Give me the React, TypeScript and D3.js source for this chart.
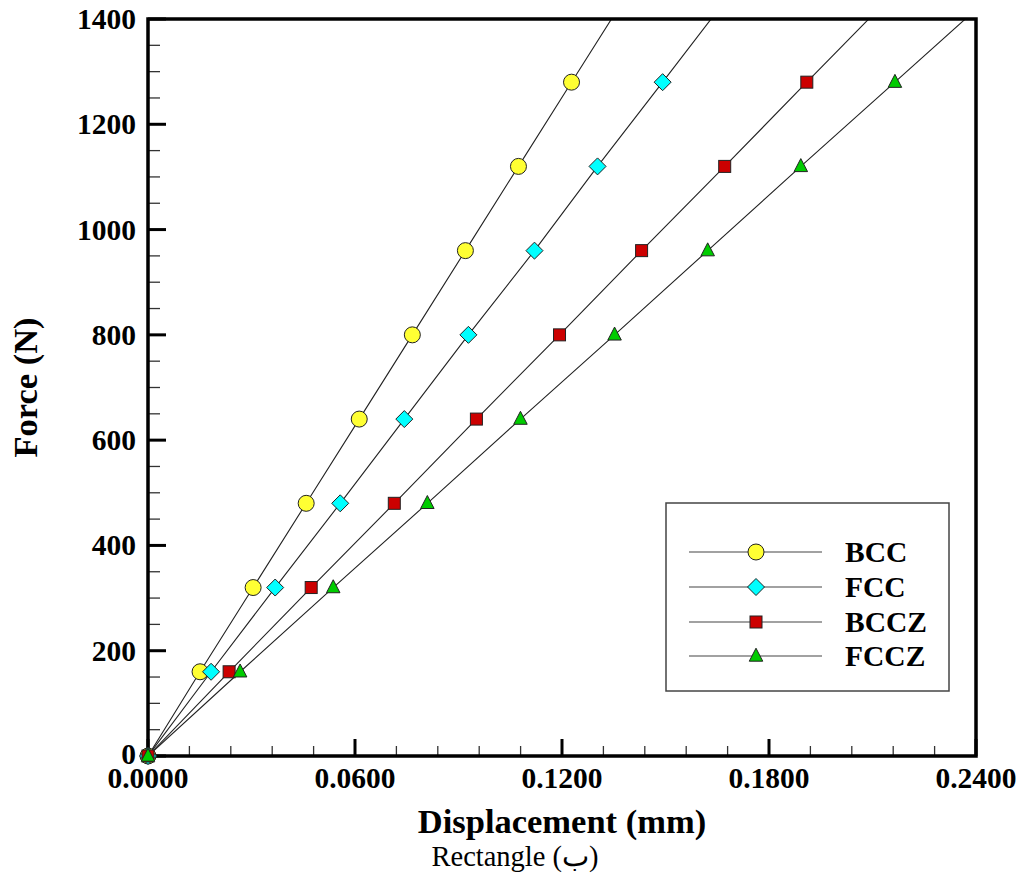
import React from "react";
import * as d3 from "d3";

const forces = [0, 160, 320, 480, 640, 800, 960, 1120, 1280, 1440];
const bccDisp = [0, 0.01509, 0.03047, 0.04585, 0.06123, 0.07662, 0.092, 0.10738, 0.12276, 0.1382];
const fccDisp = [0, 0.01828, 0.03686, 0.05572, 0.07429, 0.09287, 0.11202, 0.1303, 0.14917, 0.1679];
const bcczDisp = [0, 0.02351, 0.0473, 0.07139, 0.09519, 0.11928, 0.14307, 0.16716, 0.19096, 0.2149];
const fcczDisp = [0, 0.0267, 0.05369, 0.08097, 0.10796, 0.13524, 0.16223, 0.18922, 0.2165, 0.2437];
const seriesNames = ["BCC", "FCC", "BCCZ", "FCCZ"];
const seriesColors = ["#ffff33", "#00ffff", "#cc0000", "#00cc00"];
const seriesShapes = ["circle", "diamond", "square", "triangle"];
const xTickLabels = ["0.0000", "0.0600", "0.1200", "0.1800", "0.2400"];
const yTickValues = [0, 200, 400, 600, 800, 1000, 1200, 1400];

const W = 1026;
const H = 882;
const L = 148, R = 976, T = 19, B = 756;
const FONT = "'Liberation Serif', 'Times New Roman', serif";

function Marker({ shape, x, y, fill }: { shape: string; x: number; y: number; fill: string }) {
  const stroke = "#222";
  const sw = 1;
  if (shape === "circle") return <circle cx={x} cy={y} r={8} fill={fill} stroke={stroke} strokeWidth={sw} />;
  if (shape === "diamond") {
    const s = 8.5;
    return <path d={`M${x},${y - s}L${x + s},${y}L${x},${y + s}L${x - s},${y}Z`} fill={fill} stroke={stroke} strokeWidth={sw} />;
  }
  if (shape === "square") return <rect x={x - 6} y={y - 6} width={12} height={12} fill={fill} stroke={stroke} strokeWidth={sw} />;
  const h = 13, w = 13.5;
  return <path d={`M${x},${y - h * 0.6}L${x + w / 2},${y + h * 0.4}L${x - w / 2},${y + h * 0.4}Z`} fill={fill} stroke={stroke} strokeWidth={sw} />;
}

export default function App() {
  const x = d3.scaleLinear().domain([0, 0.24]).range([L, R]);
  const y = d3.scaleLinear().domain([0, 1400]).range([B, T]);
  const allDisp = [bccDisp, fccDisp, bcczDisp, fcczDisp];
  const line = d3.line<[number, number]>().x((d) => x(d[0])).y((d) => y(d[1]));
  const xMinor = d3.range(0, 21).map((i) => i * 0.012);
  const yMinor = d3.range(0, 29).map((i) => i * 50);
  const legendRows = [552, 587, 622, 656];

  return (
    <svg width={W} height={H} style={{ position: "absolute", left: 0, top: 0, background: "#fff" }}>
      <defs>
        <clipPath id="plot">
          <rect x={L} y={T} width={R - L} height={B - T} />
        </clipPath>
      </defs>
      <rect width={W} height={H} fill="#fff" />
      {/* minor ticks */}
      {xMinor.map((v, i) => (
        <line key={"xm" + i} x1={x(v)} x2={x(v)} y1={B} y2={B - (i % 5 === 0 ? 17 : 10)} stroke={i % 5 === 0 ? "#000" : "#333"} strokeWidth={i % 5 === 0 ? 3 : 1.3} />
      ))}
      {yMinor.map((v, i) => (
        <line key={"ym" + i} x1={L} x2={L + (i % 4 === 0 ? 18 : 12)} y1={y(v)} y2={y(v)} stroke={i % 4 === 0 ? "#000" : "#333"} strokeWidth={i % 4 === 0 ? 3 : 1.3} />
      ))}
      {/* series */}
      <g clipPath="url(#plot)">
        {allDisp.map((disp, si) => (
          <path key={"l" + si} d={line(disp.map((d, i) => [d, forces[i]] as [number, number])) || ""} fill="none" stroke="#222" strokeWidth={1.1} />
        ))}
      </g>
      {/* frame */}
      <rect x={L} y={T} width={R - L} height={B - T} fill="none" stroke="#000" strokeWidth={3.5} />
      <g>
        {allDisp.map((disp, si) =>
          disp.map((d, i) =>
            forces[i] <= 1400 && d <= 0.24 ? (
              <Marker key={"m" + si + "-" + i} shape={seriesShapes[si]} x={x(d)} y={y(forces[i])} fill={seriesColors[si]} />
            ) : null
          )
        )}
      </g>
      {/* tick labels */}
      {xTickLabels.map((t, i) => (
        <text key={"xt" + i} x={x(i * 0.06)} y={788} textAnchor="middle" fontFamily={FONT} fontWeight="bold" fontSize={29.5}>
          {t}
        </text>
      ))}
      {yTickValues.map((v) => (
        <text key={"yt" + v} x={136} y={y(v) + (v === 0 ? 8 : 10)} textAnchor="end" fontFamily={FONT} fontWeight="bold" fontSize={29.5}>
          {v}
        </text>
      ))}
      {/* axis titles */}
      <text x={(L + R) / 2} y={833} textAnchor="middle" fontFamily={FONT} fontWeight="bold" fontSize={34.5}>
        Displacement (mm)
      </text>
      <text transform={`translate(37,${(T + B) / 2}) rotate(-90)`} textAnchor="middle" fontFamily={FONT} fontWeight="bold" fontSize={34.5}>
        Force (N)
      </text>
      <text x={515} y={866} textAnchor="middle" fontFamily={FONT} fontSize={28.5}>
        Rectangle (ب)
      </text>
      {/* legend */}
      <rect x={666} y={503} width={283} height={188} fill="#fff" stroke="#444" strokeWidth={1.5} />
      {seriesNames.map((n, i) => (
        <g key={"lg" + i}>
          <line x1={689} x2={822} y1={legendRows[i]} y2={legendRows[i]} stroke="#444" strokeWidth={1.2} />
          <Marker shape={seriesShapes[i]} x={756} y={legendRows[i]} fill={seriesColors[i]} />
          <text x={845} y={legendRows[i] + 10} fontFamily={FONT} fontWeight="bold" fontSize={29.5}>
            {n}
          </text>
        </g>
      ))}
    </svg>
  );
}
